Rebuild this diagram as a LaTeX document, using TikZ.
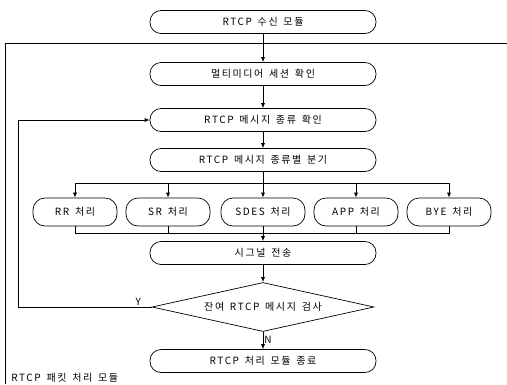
\documentclass[tikz,border=0pt]{standalone}
\usepackage{fontspec}
\setmainfont{Noto Sans CJK KR}[LetterSpace=16,WordSpace=1.5]
\usetikzlibrary{shapes.geometric,arrows.meta}
\begin{document}
\begin{tikzpicture}[x=1pt,y=1pt,
  line width=0.7pt,
  txt/.style={font=\fontsize{10}{11}\selectfont},
  box/.style={draw,txt,rounded corners=11pt,minimum width=226pt,minimum height=23pt,inner sep=0pt},
  sub/.style={draw,txt,rounded corners=12pt,minimum width=84pt,minimum height=28pt,inner sep=0pt},
  dec/.style={draw,txt,diamond,aspect=4.5,minimum width=222pt,minimum height=49pt,inner sep=0pt},
  arr/.style={-{Latex[length=5pt,width=4pt]}},
  lbl/.style={txt,inner sep=1pt}]
\useasboundingbox (0,0) rectangle (507,-384);
% frame
\draw[line width=0.5pt] (5,-384) -- (5,-43) -- (507,-43);
\node[box] (n1) at (263,-22) {RTCP 수신 모듈};
\node[box] (n2) at (263,-74) {멀티미디어 세션 확인};
\node[box] (n3) at (263,-120) {RTCP 메시지 종류 확인};
\node[box] (n4) at (263,-160) {RTCP 메시지 종류별 분기};
\node[sub] (rr) at (75,-212) {RR 처리};
\node[sub] (sr) at (168,-212) {SR 처리};
\node[sub] (sdes) at (263,-212) {SDES 처리};
\node[sub] (app) at (356,-212) {APP 처리};
\node[sub] (bye) at (449,-212) {BYE 처리};
\node[box] (n5) at (263,-253) {시그널 전송};
\node[dec] (d) at (263,-307) {잔여 RTCP 메시지 검사};
\node[box] (n6) at (263,-361) {RTCP 처리 모듈 종료};
\node[lbl,anchor=west] (cap) at (10,-378) {RTCP 패킷 처리 모듈};
% arrows
\draw[arr] (n1) -- (n2);
\draw[arr] (n2) -- (n3);
\draw[arr] (n3) -- (n4);
\draw[arr] (n4) -- (sdes);
\coordinate (bus) at (263,-183);
\draw (rr.north |- bus) -- (bye.north |- bus);
\draw[arr] (rr.north |- bus) -- (rr.north);
\draw[arr] (sr.north |- bus) -- (sr.north);
\draw[arr] (app.north |- bus) -- (app.north);
\draw[arr] (bye.north |- bus) -- (bye.north);
\coordinate (mrg) at (263,-233);
\draw (rr.south) -- (rr.south |- mrg) -- (bye.south |- mrg) -- (bye.south);
\draw (sr.south) -- (sr.south |- mrg);
\draw (app.south) -- (app.south |- mrg);
\draw[arr] (sdes) -- (n5);
\draw[arr] (n5) -- (d);
\draw[arr] (d) -- node[lbl,right,pos=0.45] (nl) {N} (n6);
\coordinate (lp) at (18,-307);
\draw[arr] (d.west) -- node[lbl,above,pos=0.1] (yl) {Y} (lp) |- (n3.west);
\end{tikzpicture}
\end{document}
